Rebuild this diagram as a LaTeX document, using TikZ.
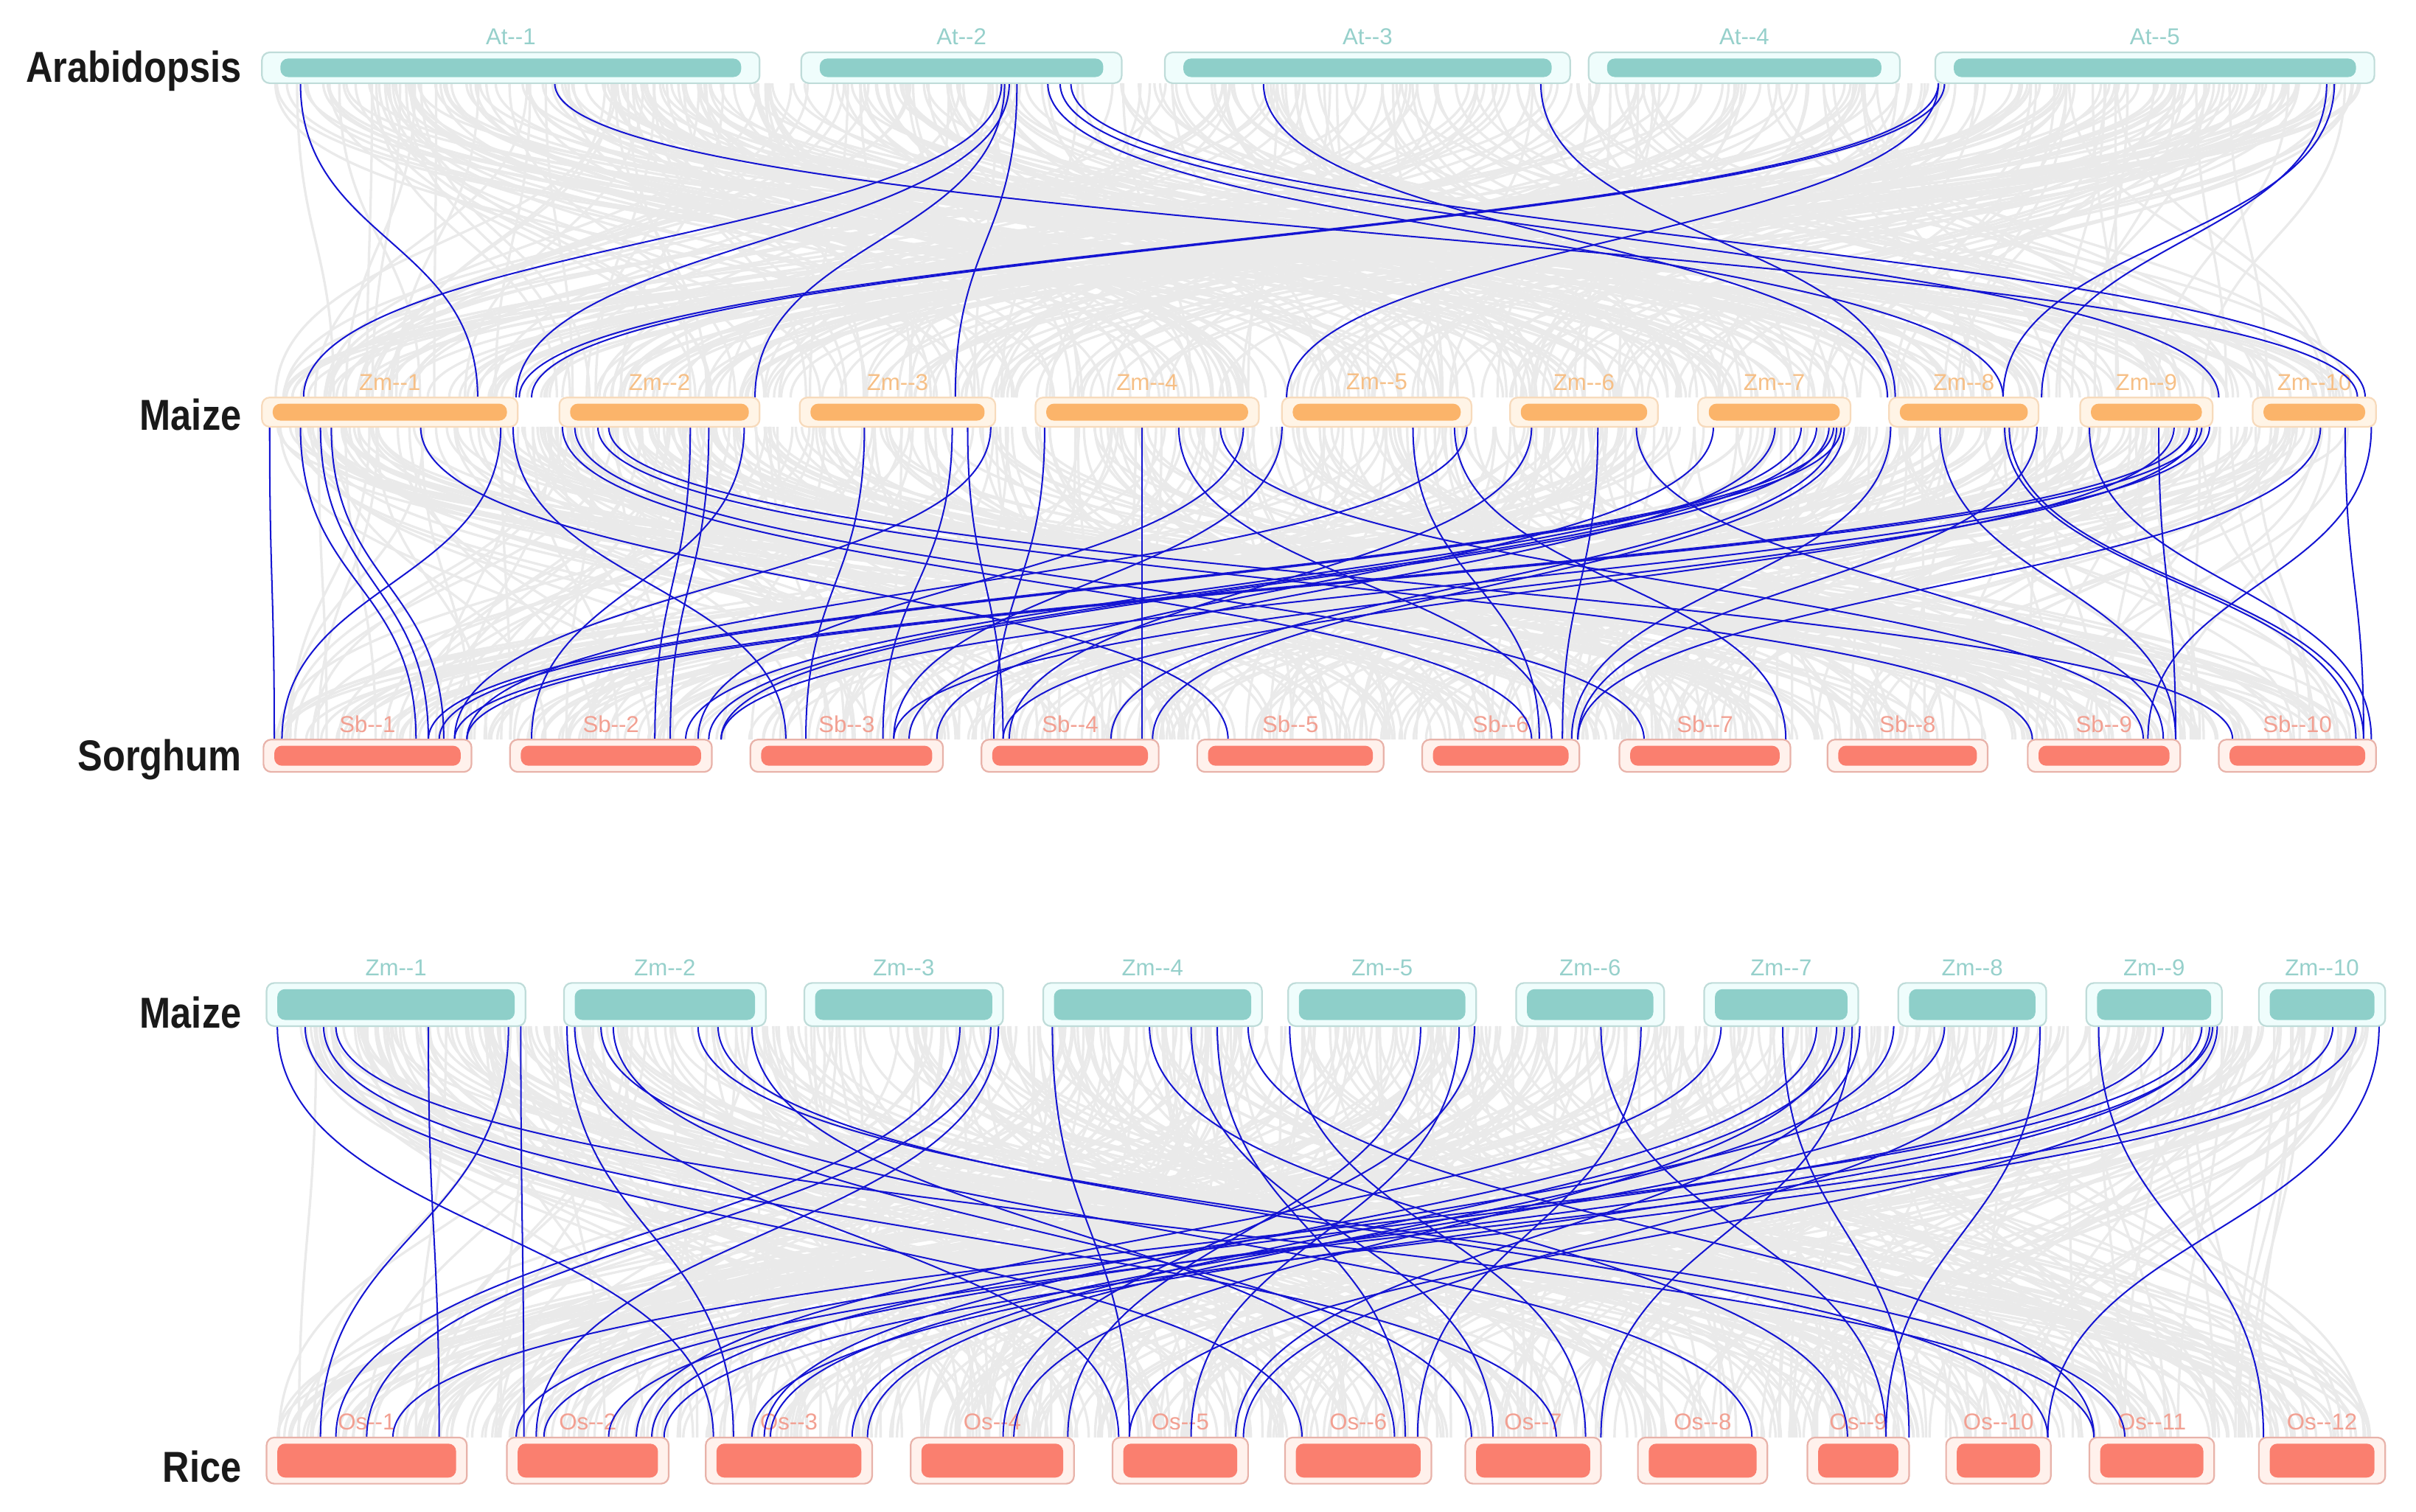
\documentclass[tikz,border=0pt]{standalone}
\usepackage{fontspec}
\setmainfont{Liberation Sans}
\newfontfamily\spfont[FakeStretch=0.86]{Liberation Sans}
\definecolor{tealI}{HTML}{8ECFC9}
\definecolor{tealO}{HTML}{EFFDFC}
\definecolor{tealB}{HTML}{BFDCD9}
\definecolor{tealT}{HTML}{96D0CB}
\definecolor{orI}{HTML}{FBB46A}
\definecolor{orO}{HTML}{FFF4E6}
\definecolor{orB}{HTML}{F7DABB}
\definecolor{orT}{HTML}{F6BF86}
\definecolor{saI}{HTML}{FA7F6F}
\definecolor{saO}{HTML}{FFF1EC}
\definecolor{saB}{HTML}{E8B2A9}
\definecolor{saT}{HTML}{F2A092}
\definecolor{lnkc}{HTML}{1414D2}
\definecolor{bgc}{HTML}{EAEAEA}
\pgfdeclarelayer{grayl}
\pgfdeclarelayer{labl}
\pgfdeclarelayer{bluel}
\pgfsetlayers{grayl,labl,bluel,main}
\tikzset{
  tealout/.style={fill=tealO, draw=tealB, line width=0.6pt, rounded corners=0.1cm},
  tealin/.style={fill=tealI, rounded corners=0.1cm},
  tealtxt/.style={text=tealT, font=\fontsize{8.5}{8.5}\selectfont, inner sep=0pt},
  orout/.style={fill=orO, draw=orB, line width=0.6pt, rounded corners=0.1cm},
  orin/.style={fill=orI, rounded corners=0.1cm},
  ortxt/.style={text=orT, font=\fontsize{8.5}{8.5}\selectfont, inner sep=0pt},
  saout/.style={fill=saO, draw=saB, line width=0.6pt, rounded corners=0.1cm},
  sain/.style={fill=saI, rounded corners=0.1cm},
  satxt/.style={text=saT, font=\fontsize{8.5}{8.5}\selectfont, inner sep=0pt},
  species/.style={font=\spfont\bfseries\fontsize{16}{16}\selectfont, anchor=east, inner sep=0pt, text=black!90},
  bgl/.style={draw=bgc, line width=0.9pt},
  bll/.style={draw=lnkc, line width=0.55pt}
}
\newcommand\mkchrom[8]{%
  \draw[#7out] (#2,#4) rectangle (#3,#5);
  \fill[#7in] ({#2+#8},{#4+4}) rectangle ({#3-#8},{#5-4});
  \begin{pgfonlayer}{labl}
  \node[#7txt] (#1) at ({(#2+#3)/2},{#4-10}) {#6};
  \end{pgfonlayer}
}
\begin{document}
\begin{tikzpicture}[x=0.02cm,y=-0.02cm]
\useasboundingbox (0,0) rectangle (1568,981);

% ---------------- gray background links ----------------
\begin{pgfonlayer}{grayl}
\pgfmathsetseed{4242}
\foreach \i in {1,...,420}{
  \pgfmathsetmacro\xa{178+1355*rnd}
  \pgfmathsetmacro\xb{178+1355*rnd}
  \draw[bgl] (\xa,54) .. controls (\xa,156) and (\xb,156) .. (\xb,258);
}
\foreach \i in {1,...,480}{
  \pgfmathsetmacro\xa{178+1355*rnd}
  \pgfmathsetmacro\xb{178+1355*rnd}
  \draw[bgl] (\xa,277) .. controls (\xa,379) and (\xb,379) .. (\xb,480);
}
\foreach \i in {1,...,520}{
  \pgfmathsetmacro\xa{180+1360*rnd}
  \pgfmathsetmacro\xb{180+1360*rnd}
  \draw[bgl] (\xa,666) .. controls (\xa,800) and (\xb,800) .. (\xb,933);
}
\end{pgfonlayer}

% ---------------- blue links ----------------
\begin{pgfonlayer}{bluel}
% Arabidopsis -> Maize
\foreach \a/\b in {195/310, 360/1530, 650/197, 655/335, 660/620, 652/490, 680/1300,
  695/1535, 688/1440, 820/1225, 1000/1230, 1258/337, 1262/345, 1258/835, 1510/1325, 1515/1300}{
  \draw[bll] (\a,54) .. controls (\a,156) and (\b,156) .. (\b,258);
}
% Maize -> Sorghum
\foreach \a/\b in {175/178, 195/270, 208/278, 215/288, 273/797, 325/183, 333/510,
  365/994, 373/1067, 388/1319, 395/1449, 448/425, 460/435, 483/345,
  561/523, 618/573, 628/651, 643/295,
  678/645, 741/741, 765/1007, 792/1391, 807/453,
  832/580, 917/999, 944/1159, 952/303,
  994/655, 1037/1014, 1062/1404,
  1112/590, 1152/608, 1169/445, 1179/460, 1187/468, 1192/721, 1197/748, 1195/285, 1190/278,
  1227/1020, 1259/1412, 1301/1529, 1304/1534, 1322/1024,
  1356/1539, 1401/1412, 1411/651, 1421/295, 1429/303, 1434/468, 1426/580,
  1506/1024, 1522/1534, 1539/1394}{
  \draw[bll] (\a,277) .. controls (\a,379) and (\b,379) .. (\b,480);
}
% Maize -> Rice
\foreach \a/\b in {180/463, 198/845, 210/1010, 218/1359, 278/285, 330/208, 338/340,
  368/476, 373/726, 390/1137, 398/955, 453/1379, 466/1329, 488/905,
  623/218, 643/238, 648/348,
  683/733, 746/1199, 773/969, 790/912, 810/1359,
  837/1029, 922/693, 947/773, 957/651,
  1039/1224, 1065/920,
  1117/413, 1157/1239, 1179/496, 1192/658, 1197/553, 1202/1039, 1207/802,
  1229/563, 1262/423, 1307/500, 1309/807, 1324/1224,
  1362/1469, 1404/335, 1429/255, 1434/488, 1439/733, 1436/395,
  1514/353, 1529/431, 1544/1329}{
  \draw[bll] (\a,666) .. controls (\a,800) and (\b,800) .. (\b,933);
}
\end{pgfonlayer}

% ---------------- species labels ----------------
\node[species] (spAt) at (157,46) {Arabidopsis};
\node[species] (spZm) at (157,269) {Maize};
\node[species] (spSb) at (157,493) {Sorghum};
\node[species] (spZm2) at (157,657) {Maize};
\node[species] (spOs) at (157,952) {Rice};

% ---------------- chromosomes ----------------
\mkchrom{at1}{170}{493}{34}{54}{At-{}-1}{teal}{12}
\mkchrom{at2}{520}{728}{34}{54}{At-{}-2}{teal}{12}
\mkchrom{at3}{756}{1019}{34}{54}{At-{}-3}{teal}{12}
\mkchrom{at4}{1031}{1233}{34}{54}{At-{}-4}{teal}{12}
\mkchrom{at5}{1256}{1541}{34}{54}{At-{}-5}{teal}{12}

\mkchrom{zma1}{170}{336}{258}{277}{Zm-{}-1}{or}{7}
\mkchrom{zma2}{363}{493}{258}{277}{Zm-{}-2}{or}{7}
\mkchrom{zma3}{519}{646}{258}{277}{Zm-{}-3}{or}{7}
\mkchrom{zma4}{672}{817}{258}{277}{Zm-{}-4}{or}{7}
\mkchrom{zma5}{832}{955}{258}{277}{Zm-{}-5}{or}{7}
\mkchrom{zma6}{980}{1076}{258}{277}{Zm-{}-6}{or}{7}
\mkchrom{zma7}{1102}{1201}{258}{277}{Zm-{}-7}{or}{7}
\mkchrom{zma8}{1226}{1323}{258}{277}{Zm-{}-8}{or}{7}
\mkchrom{zma9}{1350}{1436}{258}{277}{Zm-{}-9}{or}{7}
\mkchrom{zma10}{1462}{1542}{258}{277}{Zm-{}-10}{or}{7}

\mkchrom{sb1}{171}{306}{480}{501}{Sb-{}-1}{sa}{7}
\mkchrom{sb2}{331}{462}{480}{501}{Sb-{}-2}{sa}{7}
\mkchrom{sb3}{487}{612}{480}{501}{Sb-{}-3}{sa}{7}
\mkchrom{sb4}{637}{752}{480}{501}{Sb-{}-4}{sa}{7}
\mkchrom{sb5}{777}{898}{480}{501}{Sb-{}-5}{sa}{7}
\mkchrom{sb6}{923}{1025}{480}{501}{Sb-{}-6}{sa}{7}
\mkchrom{sb7}{1051}{1162}{480}{501}{Sb-{}-7}{sa}{7}
\mkchrom{sb8}{1186}{1290}{480}{501}{Sb-{}-8}{sa}{7}
\mkchrom{sb9}{1316}{1415}{480}{501}{Sb-{}-9}{sa}{7}
\mkchrom{sb10}{1440}{1542}{480}{501}{Sb-{}-10}{sa}{7}

\mkchrom{zmb1}{173}{341}{638}{666}{Zm-{}-1}{teal}{7}
\mkchrom{zmb2}{366}{497}{638}{666}{Zm-{}-2}{teal}{7}
\mkchrom{zmb3}{522}{651}{638}{666}{Zm-{}-3}{teal}{7}
\mkchrom{zmb4}{677}{819}{638}{666}{Zm-{}-4}{teal}{7}
\mkchrom{zmb5}{836}{958}{638}{666}{Zm-{}-5}{teal}{7}
\mkchrom{zmb6}{984}{1080}{638}{666}{Zm-{}-6}{teal}{7}
\mkchrom{zmb7}{1106}{1206}{638}{666}{Zm-{}-7}{teal}{7}
\mkchrom{zmb8}{1232}{1328}{638}{666}{Zm-{}-8}{teal}{7}
\mkchrom{zmb9}{1354}{1442}{638}{666}{Zm-{}-9}{teal}{7}
\mkchrom{zmb10}{1466}{1548}{638}{666}{Zm-{}-10}{teal}{7}

\mkchrom{os1}{173}{303}{933}{963}{Os-{}-1}{sa}{7}
\mkchrom{os2}{329}{434}{933}{963}{Os-{}-2}{sa}{7}
\mkchrom{os3}{458}{566}{933}{963}{Os-{}-3}{sa}{7}
\mkchrom{os4}{591}{697}{933}{963}{Os-{}-4}{sa}{7}
\mkchrom{os5}{722}{810}{933}{963}{Os-{}-5}{sa}{7}
\mkchrom{os6}{834}{929}{933}{963}{Os-{}-6}{sa}{7}
\mkchrom{os7}{951}{1039}{933}{963}{Os-{}-7}{sa}{7}
\mkchrom{os8}{1063}{1147}{933}{963}{Os-{}-8}{sa}{7}
\mkchrom{os9}{1173}{1239}{933}{963}{Os-{}-9}{sa}{7}
\mkchrom{os10}{1263}{1331}{933}{963}{Os-{}-10}{sa}{7}
\mkchrom{os11}{1356}{1437}{933}{963}{Os-{}-11}{sa}{7}
\mkchrom{os12}{1466}{1548}{933}{963}{Os-{}-12}{sa}{7}
\end{tikzpicture}
\end{document}
